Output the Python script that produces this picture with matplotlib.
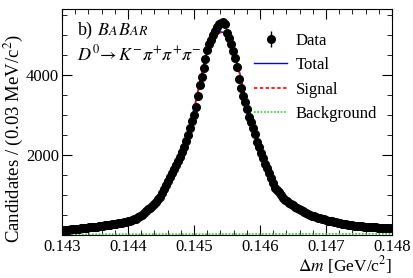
import numpy as np
import matplotlib
matplotlib.use("Agg")
import matplotlib.pyplot as plt
from matplotlib.ticker import MultipleLocator, FuncFormatter

# D*+ - D0 mass difference, 0.03 MeV bins
bin_lo = 0.143
bin_width = 0.00003
counts = [
    122, 128, 130, 133, 140, 142, 148, 155, 158, 165,
    170, 176, 180, 188, 192, 200, 205, 210, 216, 222,
    228, 236, 240, 248, 256, 262, 272, 280, 292, 300,
    310, 322, 330, 345, 360, 372, 392, 410, 440, 470,
    510, 555, 600, 640, 680, 720, 770, 830, 890, 960,
    1050, 1150, 1250, 1350, 1450, 1560, 1650, 1750, 1850, 1960,
    2080, 2200, 2350, 2500, 2680, 2850, 3000, 3200, 3480, 3750,
    3950, 4180, 4400, 4620, 4780, 4880, 5000, 5100, 5200, 5280,
    5300, 5320, 5280, 5050, 4930, 4760, 4600, 4430, 4200, 3900,
    3680, 3480, 3320, 3150, 2960, 2820, 2680, 2520, 2320, 2200,
    2060, 1930, 1780, 1680, 1560, 1420, 1300, 1180, 1120, 1070,
    1000, 930, 880, 840, 800, 770, 740, 710, 680, 650,
    625, 600, 570, 545, 520, 505, 485, 470, 450, 435,
    420, 405, 390, 375, 360, 350, 340, 330, 318, 305,
    295, 285, 272, 262, 255, 248, 240, 235, 230, 225,
    220, 214, 210, 205, 200, 198, 195, 190, 188, 185,
    182, 178, 176, 172, 170, 168,
]

fit_x = [0.1430, 0.1435, 0.1440, 0.1442, 0.1444, 0.1445, 0.1446, 0.1447,
         0.1448, 0.1449, 0.1450, 0.14505, 0.1451, 0.14515, 0.1452, 0.14525,
         0.1453, 0.14535, 0.1454, 0.14545, 0.1455, 0.14555, 0.1456, 0.14565,
         0.1457, 0.14575, 0.1458, 0.14585, 0.1459, 0.1460, 0.1461, 0.1462,
         0.1463, 0.1464, 0.1465, 0.1466, 0.1468, 0.1470, 0.1472, 0.1474,
         0.1476, 0.1478, 0.1480]
fit_total = [120, 200, 325, 450, 700, 900, 1250, 1600,
             2000, 2550, 3150, 3500, 3900, 4300, 4600, 4850,
             5000, 5060, 5080, 5060, 4980, 4820, 4600, 4330,
             4000, 3650, 3300, 3000, 2700, 2150, 1750, 1380,
             1100, 900, 750, 640, 470, 370, 300, 255,
             220, 195, 175]
bkg_x = [0.1430, 0.1440, 0.1450, 0.1460, 0.1470, 0.1480]
bkg_vals = [14, 18, 21, 24, 26, 28]

plt.rcParams['font.family'] = ['Liberation Serif', 'DejaVu Serif']
plt.rcParams['mathtext.fontset'] = 'stix'

counts = np.array(counts, dtype=float)
centers = bin_lo + bin_width * (np.arange(len(counts)) + 0.5)
fit_x = np.array(fit_x)
fit_total = np.array(fit_total, dtype=float)
fit_signal = fit_total - np.interp(fit_x, bkg_x, bkg_vals)

fig = plt.figure(figsize=(4.13, 2.78), dpi=100)
ax = fig.add_axes([0.150, 0.155, 0.799, 0.813])

ax.plot(bkg_x, bkg_vals, color='#33cc33', ls=(0, (1, 1)), lw=1.2, label='Background', zorder=2)
ax.plot(fit_x, fit_total, color='blue', lw=1.0, label='Total', zorder=3)
ax.plot(fit_x, fit_signal, color='red', ls=(0, (2, 1.5)), lw=1.2, label='Signal', zorder=4)
ax.errorbar(centers, counts, yerr=np.sqrt(counts), fmt='o', color='black',
            ms=5.5, elinewidth=1, capsize=0, label='Data', zorder=5)

ax.set_xlim(0.143, 0.148)
ax.set_ylim(0, 5650)
ax.xaxis.set_major_locator(MultipleLocator(0.001))
ax.xaxis.set_minor_locator(MultipleLocator(0.0002))
ax.yaxis.set_major_locator(MultipleLocator(2000))
ax.yaxis.set_minor_locator(MultipleLocator(500))
ax.xaxis.set_major_formatter(FuncFormatter(lambda v, p: '%.3f' % v))
ax.yaxis.set_major_formatter(FuncFormatter(lambda v, p: '' if v < 1 else '%d' % v))
ax.tick_params(which='both', direction='in', top=True, right=True, labelsize=12)
ax.tick_params(which='major', length=7)
ax.tick_params(which='minor', length=3.5)
ax.tick_params(axis='x', pad=3)
ax.tick_params(axis='y', pad=2)

fig.text(0.032, 0.50, 'Candidates / (0.03 MeV/c$^2$)', rotation=90,
         ha='center', va='center', fontsize=13.5)
fig.text(392 / 413, 0.006, r'$\Delta m$ [GeV/c$^2$]', ha='right', va='bottom', fontsize=12.5)

# BaBar logo-style text
x0 = 0.047
ax.text(x0, 0.885, 'b)', transform=ax.transAxes, fontsize=13)
ax.text(x0 + 0.058, 0.885, r'$B$', transform=ax.transAxes, fontsize=13)
ax.text(x0 + 0.092, 0.885, r'$A$', transform=ax.transAxes, fontsize=10)
ax.text(x0 + 0.122, 0.885, r'$B$', transform=ax.transAxes, fontsize=13)
ax.text(x0 + 0.156, 0.885, r'$AR$', transform=ax.transAxes, fontsize=10)
ax.text(x0, 0.77, r'$D^0\!\rightarrow K^{-}\pi^{+}\pi^{+}\pi^{-}$', transform=ax.transAxes, fontsize=13)

h, l = ax.get_legend_handles_labels()
order = [l.index(n) for n in ['Data', 'Total', 'Signal', 'Background']]
ax.legend([h[i] for i in order], [l[i] for i in order], loc='upper right',
          bbox_to_anchor=(1.0, 0.96), frameon=False, fontsize=12,
          handlelength=2.0, labelspacing=0.5, handletextpad=0.5)

fig.savefig('out.png', dpi=100)
